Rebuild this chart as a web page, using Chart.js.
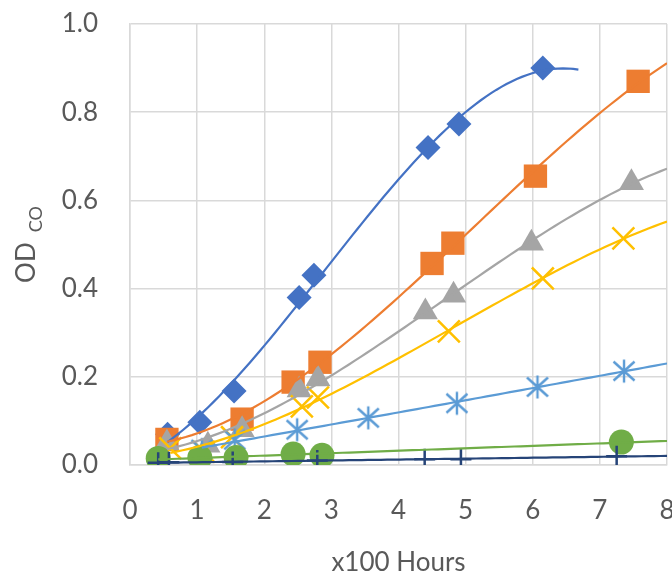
<!DOCTYPE html>
<html>
<head>
<meta charset="utf-8">
<script src="https://cdn.jsdelivr.net/npm/chart.js@4.4.0/dist/chart.umd.min.js"></script>
<style>
html, body { margin: 0; padding: 0; background: #fff; overflow: hidden; }
#wrap { width: 672px; height: 574px; overflow: hidden; }
</style>
</head>
<body>
<div id="wrap"><canvas id="chart" width="685" height="574"></canvas></div>
<script>
// values (x in 100 h, y = OD)
const xTickLabels = ["0", "1", "2", "3", "4", "5", "6", "7", "8"];
const yTickLabels = ["0.0", "0.2", "0.4", "0.6", "0.8", "1.0"];

const s1Hours = [0.56, 1.04, 1.55, 2.52, 2.74, 4.44, 4.90, 6.15];
const s1Od    = [0.070, 0.097, 0.168, 0.380, 0.430, 0.720, 0.773, 0.900];

const s2Hours = [0.55, 1.67, 2.43, 2.83, 4.50, 4.81, 6.04, 7.57];
const s2Od    = [0.058, 0.104, 0.188, 0.233, 0.457, 0.503, 0.655, 0.870];

const s3Hours = [0.55, 1.16, 1.67, 2.52, 2.80, 4.40, 4.82, 5.98, 7.47];
const s3Od    = [0.050, 0.045, 0.080, 0.170, 0.195, 0.347, 0.385, 0.503, 0.640];

const s4Hours = [0.60, 1.10, 1.52, 2.56, 2.80, 4.75, 6.15, 7.35];
const s4Od    = [0.038, 0.030, 0.063, 0.133, 0.153, 0.303, 0.423, 0.514];

const s5Hours = [1.07, 1.56, 2.49, 3.55, 4.87, 6.07, 7.36];
const s5Od    = [0.035, 0.057, 0.080, 0.107, 0.140, 0.177, 0.213];

const s6Hours = [0.42, 1.04, 1.58, 2.43, 2.86, 7.32];
const s6Od    = [0.015, 0.017, 0.017, 0.025, 0.022, 0.052];

const s7Hours = [0.42, 0.58, 1.53, 2.79, 4.39, 4.93, 7.25];
const s7Od    = [0.005, 0.006, 0.007, 0.010, 0.013, 0.013, 0.020];

// polynomial trendline order and where each trendline stops
const trendOrder = [3, 3, 3, 3, 2, 1, 1];
const trendTo = [6.68, 8, 8, 8, 8, 8, 8];

function asterisk(color) {
    const c = document.createElement("canvas");
    c.width = 28; c.height = 28;
    const g = c.getContext("2d");
    g.strokeStyle = color;
    g.lineWidth = 2.4;
    g.beginPath();
    g.moveTo(14, 2.5); g.lineTo(14, 25.5);
    g.moveTo(3.5, 4.5); g.lineTo(24.5, 23.5);
    g.moveTo(24.5, 4.5); g.lineTo(3.5, 23.5);
    g.stroke();
    return c;
}

function polyfit(xs, ys, deg) {
    const n = deg + 1;
    const A = Array.from({ length: n }, () => new Array(n + 1).fill(0));
    for (let k = 0; k < xs.length; k++) {
        for (let i = 0; i < n; i++) {
            for (let j = 0; j < n; j++) A[i][j] += Math.pow(xs[k], i + j);
            A[i][n] += ys[k] * Math.pow(xs[k], i);
        }
    }
    for (let i = 0; i < n; i++) {
        let p = i;
        for (let r = i + 1; r < n; r++) if (Math.abs(A[r][i]) > Math.abs(A[p][i])) p = r;
        [A[i], A[p]] = [A[p], A[i]];
        for (let r = 0; r < n; r++) {
            if (r === i) continue;
            const f = A[r][i] / A[i][i];
            for (let c = i; c <= n; c++) A[r][c] -= f * A[i][c];
        }
    }
    return A.map((row, i) => row[n] / row[i]);
}

function trend(xs, ys, deg, xEnd) {
    const coef = polyfit(xs, ys, deg);
    const x0 = Math.min(...xs);
    const pts = [];
    for (let s = 0; s <= 80; s++) {
        const x = x0 + (xEnd - x0) * s / 80;
        let y = 0;
        coef.forEach((c, i) => { y += c * Math.pow(x, i); });
        pts.push({ x: x, y: y });
    }
    return pts;
}

const series = [
    { xs: s1Hours, ys: s1Od, color: "#4472C4", style: "rectRot", r: 12.5, bw: 0 },
    { xs: s2Hours, ys: s2Od, color: "#ED7D31", style: "rect", r: 16.5, bw: 0 },
    { xs: s3Hours, ys: s3Od, color: "#A5A5A5", style: "triangle", r: 14.5, bw: 0 },
    { xs: s4Hours, ys: s4Od, color: "#FFC000", style: "crossRot", r: 15.5, bw: 2.5 },
    { xs: s5Hours, ys: s5Od, color: "#5B9BD5", style: asterisk("#5B9BD5"), r: 12, bw: 0 },
    { xs: s6Hours, ys: s6Od, color: "#70AD47", style: "circle", r: 12.5, bw: 0 },
    { xs: s7Hours, ys: s7Od, color: "#264478", style: "cross", r: 10.5, bw: 2.5 }
];

const datasets = [];
series.forEach((s, i) => {
    datasets.push({
        data: s.xs.map((x, k) => ({ x: x, y: s.ys[k] })),
        showLine: false,
        pointStyle: s.style,
        pointRadius: s.r,
        pointBackgroundColor: s.color,
        pointBorderColor: s.color,
        pointBorderWidth: s.bw,
        order: 30 - i
    });
    datasets.push({
        data: trend(s.xs, s.ys, trendOrder[i], trendTo[i]),
        showLine: true,
        pointRadius: 0,
        borderColor: s.color,
        borderWidth: 2.2,
        fill: false,
        order: 10 - i
    });
});

// y title with subscript, drawn on the canvas
const yTitle = {
    id: "yTitle",
    afterDraw(chart) {
        const { ctx, chartArea } = chart;
        ctx.save();
        ctx.fillStyle = "#595959";
        ctx.font = "26px Lato";
        const w1 = ctx.measureText("OD").width;
        ctx.font = "18px Lato";
        const w2 = ctx.measureText("CO").width;
        const gap = 10;
        const cy = (chartArea.top + chartArea.bottom) / 2;
        ctx.translate(35, cy + (w1 + gap + w2) / 2);
        ctx.rotate(-Math.PI / 2);
        ctx.textAlign = "left";
        ctx.textBaseline = "alphabetic";
        ctx.font = "26px Lato";
        ctx.fillText("OD", 0, 0);
        ctx.font = "18px Lato";
        ctx.fillText("CO", w1 + gap, 7);
        ctx.restore();
    }
};

const tickFont = { family: "Lato", size: 26 };

new Chart(document.getElementById("chart").getContext("2d"), {
    type: "scatter",
    data: { datasets: datasets },
    plugins: [yTitle],
    options: {
        responsive: false,
        animation: false,
        layout: { padding: { top: 24, right: 5, bottom: 0, left: 0 } },
        plugins: { legend: { display: false }, tooltip: { enabled: false } },
        scales: {
            x: {
                type: "linear",
                min: 0,
                max: 8,
                ticks: {
                    stepSize: 1,
                    padding: 30,
                    color: "#595959",
                    font: tickFont,
                    maxRotation: 0,
                    callback: (v, i) => xTickLabels[i]
                },
                grid: { color: "#D9D9D9", lineWidth: 1.5, drawTicks: false },
                border: { color: "#D9D9D9", width: 1.5 },
                title: {
                    display: true,
                    text: "x100 Hours",
                    color: "#595959",
                    font: tickFont,
                    padding: { top: 0, bottom: -4 }
                },
                afterFit(s) { s.height = 109; s.paddingRight = 0; s.paddingLeft = 0; }
            },
            y: {
                min: 0,
                max: 1,
                ticks: {
                    stepSize: 0.2,
                    padding: 32,
                    color: "#595959",
                    font: tickFont,
                    callback: (v, i) => yTickLabels[i]
                },
                grid: { color: "#D9D9D9", lineWidth: 1.5, drawTicks: false },
                border: { color: "#D9D9D9", width: 1.5 },
                afterFit(s) { s.width = 130; s.paddingTop = 0; s.paddingBottom = 0; }
            }
        }
    }
});
</script>
</body>
</html>
